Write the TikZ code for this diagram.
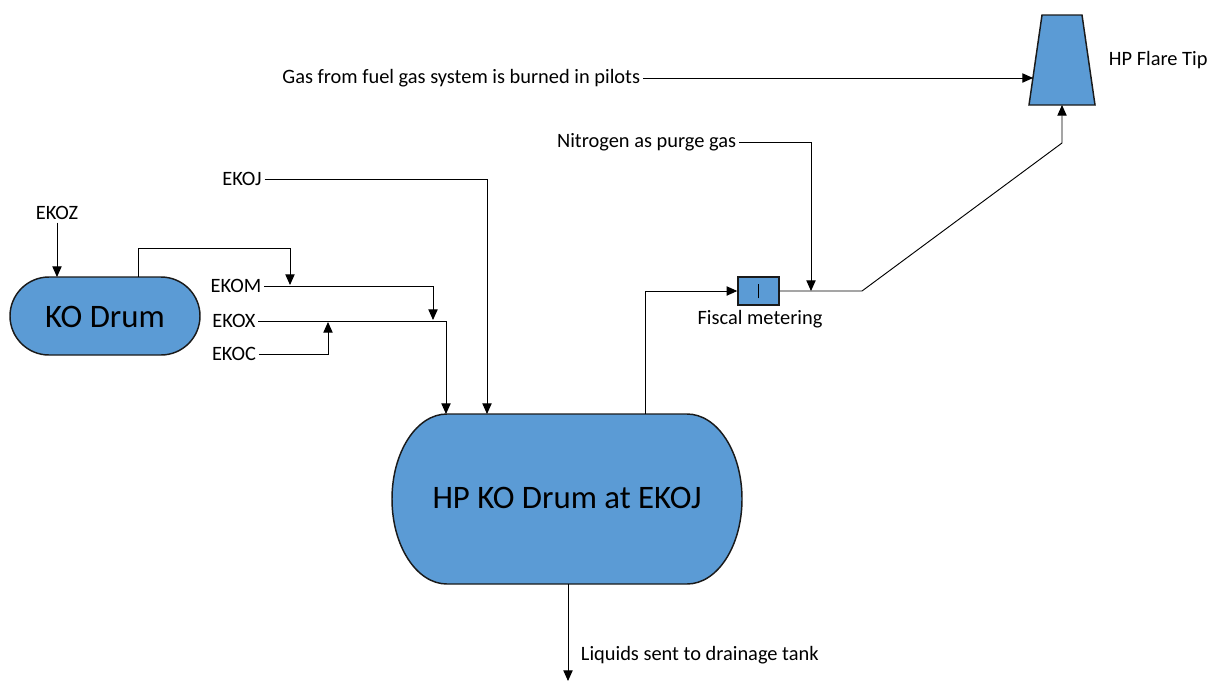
\documentclass[tikz,border=0pt]{standalone}
\usepackage{fontspec}
\setmainfont{Carlito}
\usetikzlibrary{arrows.meta}
\definecolor{fillblue}{HTML}{5B9BD5}
\definecolor{edgecol}{HTML}{1A1A1A}
\begin{document}
\begin{tikzpicture}[x=0.75pt,y=-0.75pt,
  lbl/.style={font=\fontsize{15.3}{18}\selectfont, inner sep=2pt},
  big/.style={font=\fontsize{24.6}{29}\selectfont, inner sep=0pt},
  flow/.style={draw=black, line width=0.7pt, -{Triangle[length=8pt,width=7pt]}},
  pipe/.style={draw=black, line width=0.7pt},
  vessel/.style={fill=fillblue, draw=edgecol, line width=1.1pt}]
\useasboundingbox (0,0) rectangle (1212,682);

% KO Drum
\path[vessel] (49,277) -- (161,277) arc[start angle=90,end angle=-90,radius=29.25pt]
  -- (49,355) arc[start angle=270,end angle=90,radius=29.25pt] -- cycle;
\node[big] (kod) at (105,317) {KO Drum};

% HP KO Drum
\path[vessel] (447,414) -- (687,414) arc[start angle=90,end angle=-90,x radius=41.25pt,y radius=63.75pt]
  -- (447,584) arc[start angle=270,end angle=90,x radius=41.25pt,y radius=63.75pt] -- cycle;
\node[big] (hpd) at (567,498) {HP KO Drum at EKOJ};

% Flare tip
\path[vessel] (1042,15) -- (1082,15) -- (1095,105) -- (1029,105) -- cycle;
\coordinate (flareL) at (1033,78);
\coordinate (flareB) at (1062,105);
\node[lbl, anchor=west] (flare) at (1106,60) {HP Flare Tip};

% Fiscal meter
\node[fill=fillblue, draw=edgecol, line width=1.1pt, minimum width=30.75pt, minimum height=21pt, inner sep=0pt] (meter) at (758.5,291) {};
\draw[pipe] ([yshift=-5.5pt]meter.center) -- ([yshift=5.5pt]meter.center);
\node[lbl] (fiscal) at (760,319) {Fiscal metering};

% labels
\node[lbl] (ekoz) at (57,213) {EKOZ};
\node[lbl] (ekom) at (236,286) {EKOM};
\node[lbl] (ekox) at (234,321) {EKOX};
\node[lbl] (ekoc) at (234,354) {EKOC};
\node[lbl] (ekoj) at (242,179) {EKOJ};
\node[lbl, anchor=east] (gas) at (643,78) {Gas from fuel gas system is burned in pilots};
\node[lbl, anchor=east] (nitro) at (739,142) {Nitrogen as purge gas};
\node[lbl, anchor=west] (liq) at (578,655) {Liquids sent to drainage tank};

% coordinates
\coordinate (kodZ) at (57,277);
\coordinate (kodOut) at (138,277);
\coordinate (mOn) at (290,285);
\coordinate (xOn) at (433,320);
\coordinate (cOn) at (328,322);
\coordinate (hpIn1) at (446,414);
\coordinate (hpIn2) at (487,414);
\coordinate (hpOut) at (645,414);
\coordinate (hpBot) at (568,584);
\coordinate (drain) at (568,681);
\coordinate (nOn) at (811,291);
\coordinate (bend1) at (862,291);
\coordinate (bend2) at (1062,143);

% connectors
\draw[flow] (ekoz.south) -- (kodZ);
\draw[flow] (kodOut) -- ++(0,-29) -| (mOn);
\draw[flow] (ekom.east) -| (xOn);
\draw[flow] (ekox.east) -| (hpIn1);
\draw[flow] (ekoc.east) -| (cOn);
\draw[flow] (ekoj.east) -| (hpIn2);
\draw[flow] (hpOut) |- (meter.west);
\draw[flow] (nitro.east) -| (nOn);
\draw[flow] (meter.east) -- (bend1) -- (bend2) -- (flareB);
\draw[flow] (gas.east) -- (flareL);
\draw[flow] (hpBot) -- (drain);
\end{tikzpicture}
\end{document}
